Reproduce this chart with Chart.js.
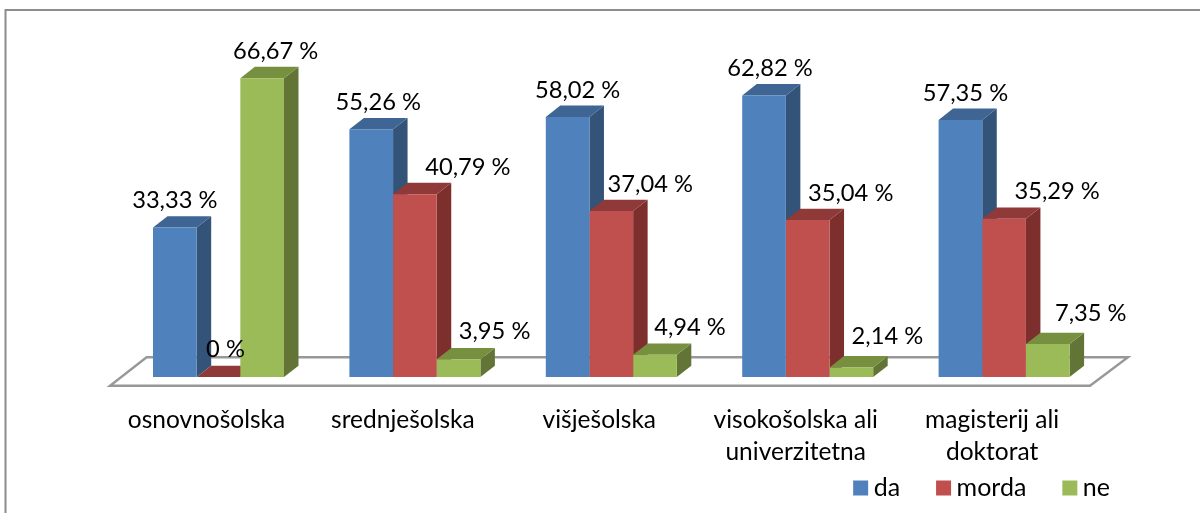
<!DOCTYPE html>
<html><head><meta charset="utf-8">
<style>html,body{margin:0;padding:0;background:#fff}#w{width:1200px;height:513px}</style>
<script src="https://cdn.jsdelivr.net/npm/chart.js@4/dist/chart.umd.min.js"></script>
</head><body><div id="w"><canvas id="c" width="1200" height="513"></canvas></div>
<script>
const categories = ['osnovnošolska','srednješolska','višješolska',['visokošolska ali','univerzitetna'],['magisterij ali','doktorat']];
const da = [33.33,55.26,58.02,62.82,57.35];
const morda = [0,40.79,37.04,35.04,35.29];
const ne = [66.67,3.95,4.94,2.14,7.35];
const seriesNames = ['da','morda','ne'];
const FONT='Lato, Carlito, sans-serif';
const FRONT=['#4F81BD','#C0504D','#9BBB59'], TOP=['#3E6593','#8F3938','#76903F'], SIDE=['#335379','#7C2F2D','#637536'];
const labelShift=[[0,7,13.5],[7,53,36],[10,39,35],[6,43,36],[5,53,43]];
const labelRise=[[27,28,27],[27,27,28],[27,27,28],[27,27,31],[27,27,31]];
const DX=14.5,DY=11.3,LP=43;
const threeD={id:'threeD',
 afterLayout(ch){const l=ch.legend;const dx=1110+LP-l.right;l.left+=dx;l.right+=dx;l.top=488-12.5-LP;l.bottom=l.top+l.height;ch.scales.x.bottom=475;},
 beforeDraw(ch){const x=ch.ctx;x.save();x.strokeStyle='#8C8C8C';x.lineWidth=2;x.beginPath();x.moveTo(5.5,513);x.lineTo(5.5,10);x.lineTo(1200,10);x.stroke();x.restore();},
 beforeDatasetsDraw(ch){const x=ch.ctx,a=ch.chartArea;x.save();
  const yf=a.bottom+8.7,yb=a.bottom-19.7;
  x.beginPath();x.moveTo(a.left-10.3,yf);x.lineTo(a.right-12.3,yf);x.lineTo(a.right+25.7,yb);x.lineTo(a.left+26.3,yb);x.closePath();
  x.fillStyle='#fff';x.fill();x.strokeStyle='#989898';x.lineWidth=2.4;x.stroke();
  for(let c=0;c<categories.length;c++)for(let s=0;s<3;s++){const e=ch.getDatasetMeta(s).data[c];
   const l=e.x-e.width/2,r=e.x+e.width/2,t=e.y,b=e.base;
   x.fillStyle=SIDE[s];x.beginPath();x.moveTo(r,t);x.lineTo(r+DX,t-DY);x.lineTo(r+DX,b-DY);x.lineTo(r,b);x.closePath();x.fill();
   x.fillStyle=TOP[s];x.beginPath();x.moveTo(l,t);x.lineTo(l+DX,t-DY);x.lineTo(r+DX,t-DY);x.lineTo(r,t);x.closePath();x.fill();
  }
  x.restore();},
 afterDatasetsDraw(ch){const x=ch.ctx;x.save();x.fillStyle='#000';x.font='23.7px '+FONT;x.textAlign='center';x.textBaseline='middle';
  for(let s=0;s<3;s++)ch.getDatasetMeta(s).data.forEach((e,c)=>{
   const v=ch.data.datasets[s].data[c];
   x.fillText(String(v).replace('.',',')+' %',e.x+labelShift[c][s],e.y-labelRise[c][s]);});
  x.restore();}
};
new Chart(document.getElementById('c'),{type:'bar',
 data:{labels:categories,datasets:[da,morda,ne].map((d,i)=>({label:seriesNames[i],data:d,backgroundColor:FRONT[i],borderWidth:0}))},
 options:{responsive:false,animation:false,
  layout:{padding:{left:120.3,right:97.7,top:40.8,bottom:0}},
  datasets:{bar:{barPercentage:1,categoryPercentage:0.667}},
  scales:{
   x:{afterFit(s){s.height=136-s.chart.legend.height;},grid:{display:false},border:{display:false},ticks:{font:{family:FONT,size:24.5,lineHeight:1.306},color:'#000',maxRotation:0,autoSkip:false,labelOffset:-12,padding:19}},
   y:{display:false,min:0,max:75}},
  plugins:{tooltip:{enabled:false},
   legend:{position:'bottom',align:'end',labels:{font:{family:FONT,size:25},color:'#000',boxWidth:1,boxHeight:1,padding:LP,
    generateLabels(ch){return ch.data.datasets.map((d,i)=>({text:d.label,fillStyle:FRONT[i],strokeStyle:FRONT[i],lineWidth:14,datasetIndex:i}));}}}}
 },plugins:[threeD]});
</script></body></html>
